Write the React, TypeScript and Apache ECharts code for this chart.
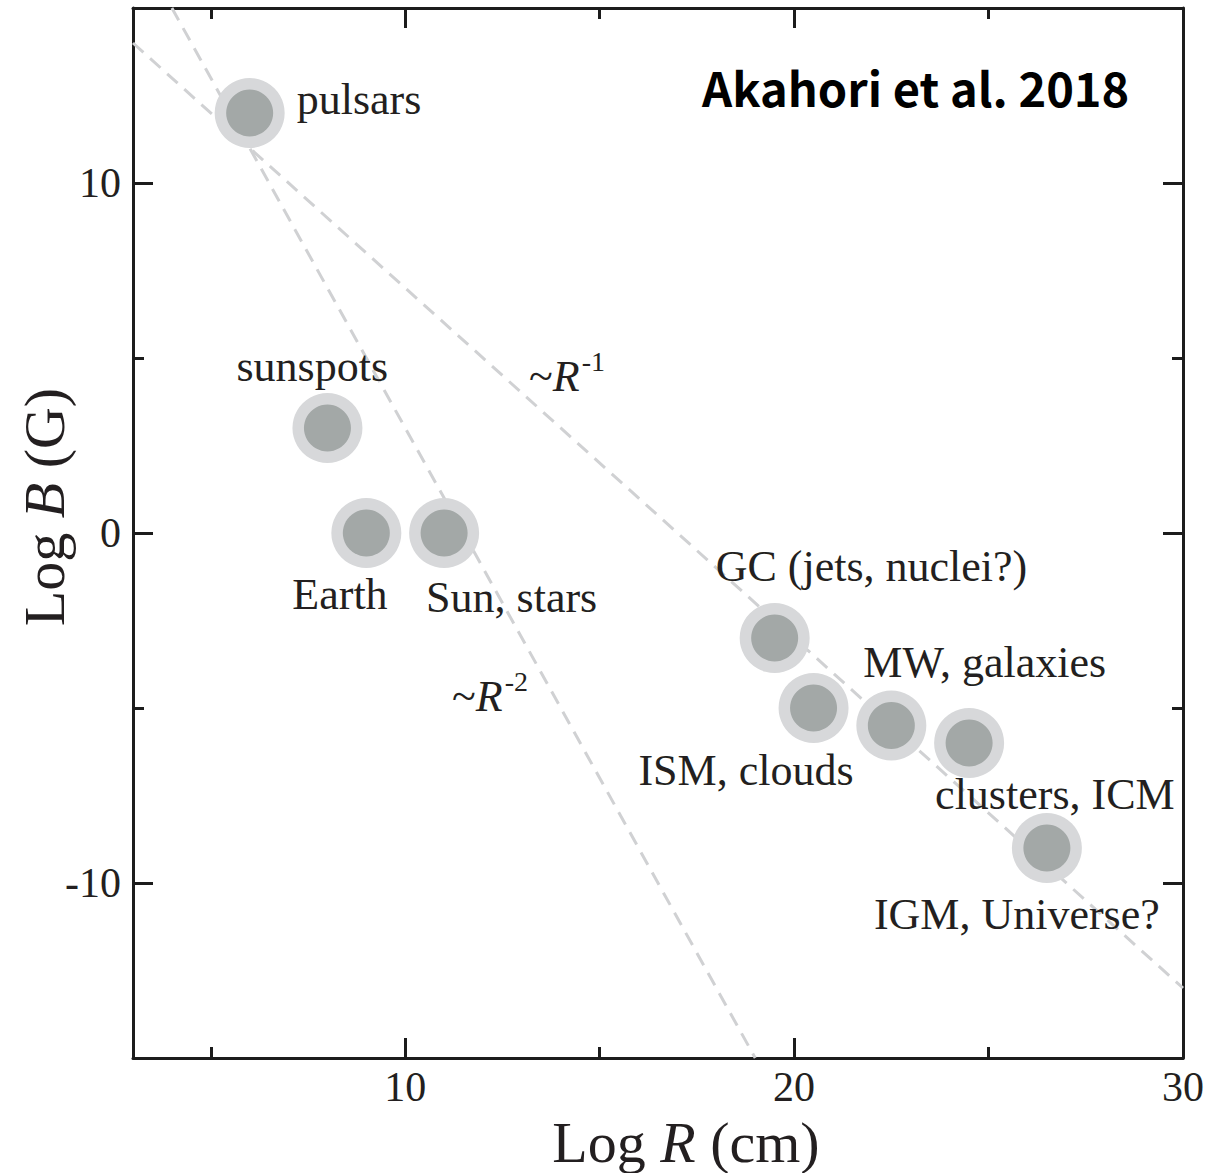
import React, { useEffect, useRef } from "react";
import * as echarts from "echarts";

// ---- data ----
const categories = [
  "pulsars",
  "sunspots",
  "Earth",
  "Sun, stars",
  "GC (jets, nuclei?)",
  "ISM, clouds",
  "MW, galaxies",
  "clusters, ICM",
  "IGM, Universe?",
];
const logR = [6, 8, 9, 11, 19.5, 20.5, 22.5, 24.5, 26.5];
const logB = [12, 3, 0, 0, -3, -5, -5.5, -6, -9];

const xMajorTicks = [10, 20, 30];
const xMinorTicks = [5, 15, 25];
const yMajorTicks = [-10, 0, 10];
const yMinorTicks = [-5, 5];

const lineR1 = [
  [3, 14],
  [30, -13],
];
const lineR2 = [
  [4, 15],
  [19, -15],
];
const trendNames = ["-1", "-2"];
const trendLabelAt = [
  [14.16, 4.47],
  [12.18, -4.66],
];

// ---- style (label placement relative to marker centre, px) ----
const labelPlacement = [
  { align: "left", dx: 47, dy: -14 },
  { align: "left", dx: -91, dy: -62 },
  { align: "left", dx: -74, dy: 61 },
  { align: "left", dx: -18, dy: 64 },
  { align: "left", dx: -59, dy: -72 },
  { align: "right", dx: 40, dy: 62 },
  { align: "left", dx: -28, dy: -63 },
  { align: "left", dx: -34, dy: 51 },
  { align: "left", dx: -173, dy: 66 },
];

const SERIF = "'Liberation Serif', 'DejaVu Serif', serif";
const TEXT = "#231f20";
const FRAME = "#1c1c1c";

export default function App() {
  const ref = useRef<HTMLDivElement>(null);

  useEffect(() => {
    document.body.style.margin = "0";
    if (!ref.current) return;
    const chart = echarts.init(ref.current, undefined, { renderer: "svg" });

    const axisBase = (pos: string, kind: "x" | "y", major: boolean, showLabel: boolean) => {
      const isX = kind === "x";
      const ticks = isX ? (major ? xMajorTicks : xMinorTicks) : major ? yMajorTicks : yMinorTicks;
      return {
        type: "value",
        position: pos,
        min: isX ? 3 : -15,
        max: isX ? 30 : 15,
        axisLine: {
          show: major,
          onZero: false,
          lineStyle: { color: FRAME, width: 3 },
        },
        axisTick: {
          show: true,
          inside: true,
          length: major ? 20 : 11,
          customValues: ticks,
          lineStyle: { color: FRAME, width: 3 },
        },
        axisLabel: showLabel
          ? {
              show: true,
              customValues: ticks,
              fontFamily: SERIF,
              fontSize: 42,
              color: TEXT,
              margin: isX ? 8 : 12,
              showMinLabel: true,
              showMaxLabel: true,
            }
          : { show: false },
        splitLine: { show: false },
      };
    };

    const outerData = logR.map((x, i) => {
      const p = labelPlacement[i];
      return {
        value: [x, logB[i]],
        label: {
          show: true,
          formatter: categories[i],
          position: "inside",
          align: p.align,
          verticalAlign: "middle",
          offset: [p.dx, p.dy],
          fontFamily: SERIF,
          fontSize: 44,
          color: TEXT,
          opacity: 1,
        },
      };
    });

    const trendData = trendLabelAt.map((pt, i) => ({
      value: pt,
      label: {
        show: true,
        position: "inside",
        opacity: 1,
        formatter: `{t|~}{i|R}{s|${trendNames[i]}}`,
        rich: {
          t: { fontFamily: SERIF, fontSize: 44, color: TEXT },
          i: { fontFamily: SERIF, fontSize: 44, fontStyle: "italic", color: TEXT },
          s: { fontFamily: SERIF, fontSize: 28, color: TEXT, padding: [0, 0, 30, 2] },
        },
      },
    }));

    const dashed = {
      color: "#d0d1d3",
      width: 3,
      type: [14, 9],
    };

    chart.setOption({
      animation: false,
      backgroundColor: "#ffffff",
      grid: { left: 133, right: 28, top: 8, bottom: 115, containLabel: false },
      xAxis: [
        axisBase("bottom", "x", true, true),
        axisBase("bottom", "x", false, false),
        axisBase("top", "x", true, false),
        axisBase("top", "x", false, false),
      ],
      yAxis: [
        axisBase("left", "y", true, true),
        axisBase("left", "y", false, false),
        axisBase("right", "y", true, false),
        axisBase("right", "y", false, false),
      ],
      series: [
        {
          type: "line",
          data: lineR1,
          showSymbol: false,
          symbol: "none",
          lineStyle: dashed,
          z: 1,
          silent: true,
        },
        {
          type: "line",
          data: lineR2,
          showSymbol: false,
          symbol: "none",
          lineStyle: dashed,
          z: 1,
          silent: true,
        },
        {
          type: "scatter",
          data: outerData,
          symbol: "circle",
          symbolSize: 70,
          itemStyle: { color: "#d7d8da", opacity: 1 },
          z: 3,
        },
        {
          type: "scatter",
          data: logR.map((x, i) => [x, logB[i]]),
          symbol: "circle",
          symbolSize: 47,
          itemStyle: { color: "#a3a8a7", opacity: 1 },
          z: 4,
        },
        {
          type: "scatter",
          data: trendData,
          symbolSize: 1,
          itemStyle: { color: "rgba(255,255,255,0)", opacity: 1 },
          z: 5,
        },
      ],
      graphic: [
        {
          type: "text",
          left: 702,
          top: 63,
          style: {
            text: "Akahori et al. 2018",
            fontFamily: "'Noto Sans CJK JP', 'Noto Sans', sans-serif",
            fontWeight: "bold",
            fontSize: 47,
            fill: "#000000",
          },
          z: 10,
        },
        {
          type: "text",
          x: 686,
          y: 1142,
          style: {
            text: "{n|Log }{i|R}{n| (cm)}",
            align: "center",
            verticalAlign: "middle",
            rich: {
              n: { fontFamily: SERIF, fontSize: 58, fill: TEXT },
              i: { fontFamily: SERIF, fontSize: 58, fontStyle: "italic", fill: TEXT },
            },
          },
        },
        {
          type: "text",
          x: 44,
          y: 507,
          rotation: Math.PI / 2,
          style: {
            text: "{n|Log }{i|B}{n| (G)}",
            align: "center",
            verticalAlign: "middle",
            rich: {
              n: { fontFamily: SERIF, fontSize: 58, fill: TEXT },
              i: { fontFamily: SERIF, fontSize: 58, fontStyle: "italic", fill: TEXT },
            },
          },
        },
      ],
    });

    return () => chart.dispose();
  }, []);

  return <div ref={ref} style={{ width: 1211, height: 1173 }} />;
}
